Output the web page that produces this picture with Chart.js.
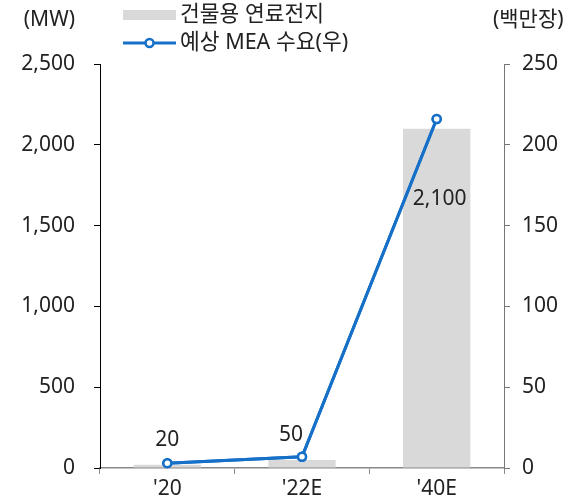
<!DOCTYPE html>
<html>
<head>
<meta charset="utf-8">
<script src="https://cdn.jsdelivr.net/npm/chart.js@4/dist/chart.umd.min.js"></script>
<style>
html,body{margin:0;padding:0;background:#fff;}
#wrap{width:585px;height:504px;position:relative;}
</style>
</head>
<body>
<div id="wrap"><canvas id="c" width="585" height="504"></canvas></div>
<script>
const categories = ["'20", "'22E", "'40E"];
const fuelCellMW = [20, 50, 2100];
const meaDemand = [3, 7, 216];
const seriesNames = ["건물용 연료전지", "예상 MEA 수요(우)"];
const leftTicks = [0, 500, 1000, 1500, 2000, 2500];
const rightTicks = [0, 50, 100, 150, 200, 250];
const leftTitle = "(MW)";
const rightTitle = "(백만장)";

const FONT = "'Noto Sans', 'Noto Sans CJK KR', sans-serif";
const TXT = '#222';
const BAR = '#d9d9d9';
const LINE = '#1670c8';

// label offsets relative to bar top (style only)
const labelOffsets = [[0, -25], [-11, -25], [3, 70]];

const overlay = {
  id: 'overlay',
  afterDatasetsDraw(chart) {
    const ctx = chart.ctx;
    const meta = chart.getDatasetMeta(0);
    ctx.save();
    ctx.font = '21px ' + FONT;
    ctx.fillStyle = TXT;
    ctx.textAlign = 'center';
    ctx.textBaseline = 'middle';
    meta.data.forEach((bar, i) => {
      const v = chart.data.datasets[0].data[i];
      const o = labelOffsets[i];
      ctx.fillText(v.toLocaleString('en-US'), bar.x + o[0], bar.y + o[1]);
    });
    ctx.restore();
    chart.getDatasetMeta(1).controller.draw();
  },
  afterDraw(chart) {
    const ctx = chart.ctx;
    ctx.save();
    ctx.font = '21px ' + FONT;
    ctx.fillStyle = TXT;
    ctx.textBaseline = 'middle';
    ctx.textAlign = 'right';
    ctx.fillText(leftTitle, 75, 20);
    ctx.textAlign = 'left';
    ctx.fillText(rightTitle, 493, 20);
    const ds = chart.data.datasets;
    ctx.fillStyle = ds[0].backgroundColor;
    ctx.fillRect(123, 10, 53, 10);
    ctx.strokeStyle = ds[1].borderColor;
    ctx.lineWidth = 3;
    ctx.beginPath(); ctx.moveTo(123, 43); ctx.lineTo(176, 43); ctx.stroke();
    ctx.fillStyle = '#fff';
    ctx.lineWidth = 2.5;
    ctx.beginPath(); ctx.arc(149.5, 43, 4, 0, Math.PI * 2); ctx.fill(); ctx.stroke();
    ctx.fillStyle = TXT;
    ctx.font = '21.5px ' + FONT;
    ctx.textAlign = 'left';
    ctx.fillText(ds[0].label, 180, 15);
    ctx.fillText(ds[1].label, 180, 43);
    ctx.restore();
  }
};

new Chart(document.getElementById('c'), {
  type: 'bar',
  data: {
    labels: categories,
    datasets: [
      {
        label: seriesNames[0],
        data: fuelCellMW,
        backgroundColor: BAR,
        yAxisID: 'y',
        barPercentage: 0.5,
        categoryPercentage: 1,
        order: 2
      },
      {
        type: 'line',
        label: seriesNames[1],
        data: meaDemand,
        yAxisID: 'y1',
        borderColor: LINE,
        borderWidth: 3,
        pointRadius: 4,
        pointBorderWidth: 2.5,
        pointBackgroundColor: '#fff',
        pointBorderColor: LINE,
        tension: 0,
        order: 1
      }
    ]
  },
  options: {
    responsive: false,
    animation: false,
    devicePixelRatio: 1,
    layout: { padding: { top: 64, left: 0, right: 0, bottom: 0 } },
    plugins: { legend: { display: false }, tooltip: { enabled: false } },
    scales: {
      x: {
        offset: true,
        grid: { display: true, drawOnChartArea: false, tickLength: 6, color: '#888', offset: true },
        border: { color: '#888', width: 1.5 },
        ticks: { color: TXT, font: { family: FONT, size: 21 }, padding: 2 },
        afterFit(s) { s.height = 36; }
      },
      y: {
        position: 'left',
        min: 0, max: 2500,
        afterBuildTicks(s) { s.ticks = leftTicks.map(v => ({ value: v })); },
        grid: { display: true, drawOnChartArea: false, tickLength: 6, color: '#000' },
        border: { color: '#000', width: 1 },
        ticks: { color: TXT, font: { family: FONT, size: 21 }, padding: 19,
          callback: v => v.toLocaleString('en-US') },
        afterFit(s) { s.width = 100; }
      },
      y1: {
        position: 'right',
        min: 0, max: 250,
        afterBuildTicks(s) { s.ticks = rightTicks.map(v => ({ value: v })); },
        grid: { display: true, drawOnChartArea: false, tickLength: 6, color: '#777' },
        border: { color: '#777', width: 1 },
        ticks: { color: TXT, font: { family: FONT, size: 21 }, padding: 12,
          callback: v => v.toLocaleString('en-US') },
        afterFit(s) { s.width = 81; }
      }
    }
  },
  plugins: [overlay]
});
</script>
</body>
</html>
